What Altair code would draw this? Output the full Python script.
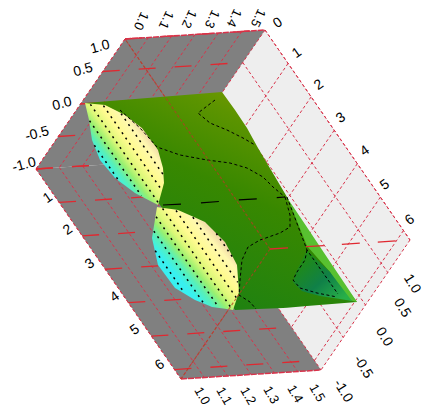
import altair as alt
import numpy as np
import pandas as pd

# ---- axis values
u_ticks = [0, 1, 2, 3, 4, 5, 6]
v_ticks = [1.0, 0.5, 0.0, -0.5, -1.0]
w_ticks = [1.0, 1.1, 1.2, 1.3, 1.4, 1.5]
U_MAX, W_MAX = 6.283, 1.6

# ---- tick labels: (text, x, y)
right_u = [("0", 278, 23), ("1", 297, 53), ("2", 319, 85), ("3", 341, 118), ("4", 365, 151), ("5", 385, 185), ("6", 410, 220)]
left_u = [("1", 48, 198), ("2", 68, 230), ("3", 90, 264), ("4", 115, 297), ("5", 135, 330), ("6", 160, 365)]
left_v = [("1.0", 100, 47), ("0.5", 83, 70), ("0.0", 62, 104), ("-0.5", 37, 134), ("-1.0", 24, 165)]
right_v = [("1.0", 412, 284), ("0.5", 402, 308), ("0.0", 384, 337), ("-0.5", 363, 367), ("-1.0", 343, 391)]
top_w = [("1.0", 141, 21), ("1.1", 166, 20), ("1.2", 189, 19), ("1.3", 212, 19), ("1.4", 234, 18), ("1.5", 258, 18)]
bottom_w = [("1.0", 202, 396), ("1.1", 224, 396), ("1.2", 248, 396), ("1.3", 271, 395), ("1.4", 295, 394), ("1.5", 317, 393)]

# ---- surface outlines
green_sheet = [(85, 103), (222, 92), (235, 110), (247, 128), (258, 148), (287, 197), (307, 237), (357, 302),
               (283, 308), (235, 310), (160, 205)]
lens_a = [(85, 103), (105, 105), (125, 115), (142, 128), (158, 150), (163, 168), (164, 183), (158, 205),
          (135, 193), (115, 178), (100, 160), (92, 140), (89, 120)]
lens_b = [(157, 207), (178, 210), (205, 222), (225, 242), (237, 265), (239, 292), (233, 310),
          (212, 307), (195, 300), (175, 288), (158, 265), (152, 238)]
teal_patch = [(307, 250), (296, 272), (293, 282), (302, 291), (320, 296), (340, 299), (352, 301), (330, 272)]
lime_band = [(288, 199), (357, 302), (345, 299), (330, 272), (307, 246)]
contours = {
    "c1": [(215, 100), (198, 113), (210, 123), (227, 130), (243, 138), (255, 145)],
    "c2": [(120, 110), (140, 128), (157, 147), (180, 155), (207, 160), (230, 163), (247, 168), (263, 177), (273, 187), (285, 197)],
    "c4": [(285, 197), (290, 215), (290, 227), (280, 233), (260, 240), (248, 247), (242, 260), (240, 280), (239, 295), (250, 302), (256, 309)],
    "c5": [(307, 250), (305, 260), (297, 272), (293, 280), (300, 288), (317, 293), (337, 297)],
    "c6": [(287, 197), (307, 250), (338, 294)],
}
long_contour = [(163, 205), (200, 203), (238, 200), (285, 197)]
hatch_a = [-33, -23, -13, -3, 7, 17, 27, 37, 47]
hatch_b = [-38, -28, -18, -8, 2, 12, 22, 32, 42, 50]

# ---- box geometry
A = np.array([265.0, 30.0])
DU = np.array([145.0, 210.0])
DV = np.array([-89.0, 130.0])
DW = np.array([-140.0, 9.0])


def p(u, v, w):
    return A + u / U_MAX * DU + (1 - v) / 2 * DV + (W_MAX - w) / 0.6 * DW


def segs(rows):
    return pd.DataFrame([dict(x=a[0], y=a[1], x2=b[0], y2=b[1]) for a, b in rows])


X = alt.Scale(domain=[8, 428])
Y = alt.Scale(domain=[407, 8])


def poly(points, **mark):
    pts = list(points)
    i0 = min(range(len(pts)), key=lambda i: pts[i][0])
    pts = pts[i0:] + pts[:i0]
    i1 = max(range(len(pts)), key=lambda i: pts[i][0])
    c1 = pts[: i1 + 1]
    c2 = (pts[i1:] + pts[:1])[::-1]
    xs = sorted({q[0] for q in pts})
    y1 = np.interp(xs, [q[0] for q in c1], [q[1] for q in c1])
    y2 = np.interp(xs, [q[0] for q in c2], [q[1] for q in c2])
    df = pd.DataFrame({"x": xs, "y": y1, "y2": y2})
    return alt.Chart(df).mark_area(**mark).encode(
        x=alt.X("x:Q", scale=X, axis=None), y=alt.Y("y:Q", scale=Y, axis=None), y2="y2:Q")


def rules(rows, **mark):
    return alt.Chart(segs(rows)).mark_rule(**mark).encode(
        x=alt.X("x:Q", scale=X, axis=None), y=alt.Y("y:Q", scale=Y, axis=None), x2="x2:Q", y2="y2:Q")


def polyline(groups, **mark):
    rows = []
    for name, pts in groups.items():
        for i, q in enumerate(pts):
            rows.append(dict(g=name, i=i, x=q[0], y=q[1]))
    return alt.Chart(pd.DataFrame(rows)).mark_line(**mark).encode(
        x=alt.X("x:Q", scale=X, axis=None), y=alt.Y("y:Q", scale=Y, axis=None),
        detail="g:N", order="i:Q")


def labels(rows, angle, size=14):
    df = pd.DataFrame(rows, columns=["t", "x", "y"])
    return alt.Chart(df).mark_text(angle=angle, fontSize=size, font="Liberation Sans", color="black",
                                   align="center", baseline="middle").encode(
        x=alt.X("x:Q", scale=X, axis=None), y=alt.Y("y:Q", scale=Y, axis=None), text="t:N")


def hatch(lens, offsets, tag):
    d = DU / np.linalg.norm(DU)
    n = np.array([d[1], -d[0]])
    c = np.mean(lens, axis=0)
    out = {}
    for k, off in enumerate(offsets):
        b = c + off * n
        ts = []
        for i in range(len(lens)):
            e0, e1 = np.array(lens[i], float), np.array(lens[(i + 1) % len(lens)], float)
            M = np.array([d, e0 - e1]).T
            if abs(np.linalg.det(M)) < 1e-9:
                continue
            t_, s = np.linalg.solve(M, e0 - b)
            if 0 <= s <= 1:
                ts.append(t_)
        if len(ts) >= 2:
            out[f"{tag}_{k}"] = [tuple(b + (min(ts) + 1) * d), tuple(b + (max(ts) - 1) * d)]
    return out


F, O, B, C = p(0, 1, 1), p(0, -1, W_MAX), p(U_MAX, 1, W_MAX), p(U_MAX, -1, W_MAX)
E, D, P = p(0, -1, 1), p(U_MAX, -1, 1), p(U_MAX, 1, 1)
t = lambda q: (float(q[0]), float(q[1]))

RED = "#d8324a"
layers = [
    poly([t(O), t(A), t(B), t(C)], color="#eeeeee"),
    poly([t(E), t(F), t(A), t(O)], color="#808080"),
    poly([t(E), t(O), t(C), t(D)], color="#808080"),
]

# dotted grid on the walls
dots = []
dots += [(p(u, 1, W_MAX), p(u, -1, W_MAX)) for u in u_ticks]
dots += [(p(0, v, W_MAX), p(U_MAX, v, W_MAX)) for v in v_ticks]
dots += [(p(0, 1, w), p(0, -1, w)) for w in w_ticks]
dots += [(p(0, -1, w), p(U_MAX, -1, w)) for w in w_ticks]
dots += [(A, B), (B, C), (F, E), (E, D), (F, P), (D, P)]
layers.append(rules(dots, color=RED, strokeWidth=1, strokeDash=[3, 2.5]))

# long-dash lines along the third axis
dash = []
dash += [(p(0, v, 1), p(0, v, W_MAX)) for v in v_ticks]
dash += [(p(u, -1, 1), p(u, -1, W_MAX)) for u in u_ticks]
layers.append(rules(dash, color="#e02830", strokeWidth=1.3, strokeDash=[17, 19]))
layers.append(rules([(F, A), (D, C)], color=RED, strokeWidth=1.5, strokeDash=[6, 1]))

# surface
layers.append(poly(green_sheet, color=alt.Gradient(
    gradient="linear", x1=0.85, y1=0.0, x2=0.35, y2=0.85,
    stops=[alt.GradientStop(offset=0.0, color="#8c9e00"),
           alt.GradientStop(offset=0.25, color="#5c9400"),
           alt.GradientStop(offset=0.55, color="#388800"),
           alt.GradientStop(offset=1.0, color="#208210")])))
layers.append(poly(lime_band, color="#58c030"))
layers.append(poly(teal_patch, color=alt.Gradient(
    gradient="linear", x1=0.2, y1=0.2, x2=0.9, y2=0.9,
    stops=[alt.GradientStop(offset=0.0, color="#1f8a18"),
           alt.GradientStop(offset=0.5, color="#108048"),
           alt.GradientStop(offset=1.0, color="#28b048")])))
lens_stops = [alt.GradientStop(offset=0.31, color="#38f0f0"),
              alt.GradientStop(offset=0.38, color="#58f0b8"),
              alt.GradientStop(offset=0.44, color="#98f070"),
              alt.GradientStop(offset=0.50, color="#dcf878"),
              alt.GradientStop(offset=0.58, color="#fffb90"),
              alt.GradientStop(offset=0.68, color="#fff8b0"),
              alt.GradientStop(offset=0.74, color="#f0d8a8"),
              alt.GradientStop(offset=0.77, color="#d8b080")]
for lens in (lens_a, lens_b):
    layers.append(poly(lens, color=alt.Gradient(gradient="linear", x1=0, y1=1, x2=1, y2=0, stops=lens_stops)))

layers.append(polyline({**hatch(lens_a, hatch_a, "a"), **hatch(lens_b, hatch_b, "b")},
                       color="black", strokeWidth=1.5, strokeDash=[2, 4.5]))
layers.append(polyline(contours, color="black", strokeWidth=1, strokeDash=[3, 2.5]))
layers.append(polyline({"c3": long_contour}, color="black", strokeWidth=1.2, strokeDash=[18, 20]))

# the three near edges of the box
layers.append(rules([(P, F), (P, D)], color="#b04020", strokeWidth=1.2, strokeDash=[3, 2], opacity=0.75))
layers.append(rules([(P, B)], color="#e02830", strokeWidth=1.3, strokeDash=[18, 18]))

layers += [labels(right_u, 325), labels(left_u, 325), labels(left_v, 345), labels(right_v, 58),
           labels(top_w, 115, 13), labels(bottom_w, 60, 13)]

chart = alt.layer(*layers).properties(width=420, height=399, padding=0, autosize="none").configure_view(stroke=None)
chart.save("out.html", embed_options={"renderer": "svg", "actions": False})
